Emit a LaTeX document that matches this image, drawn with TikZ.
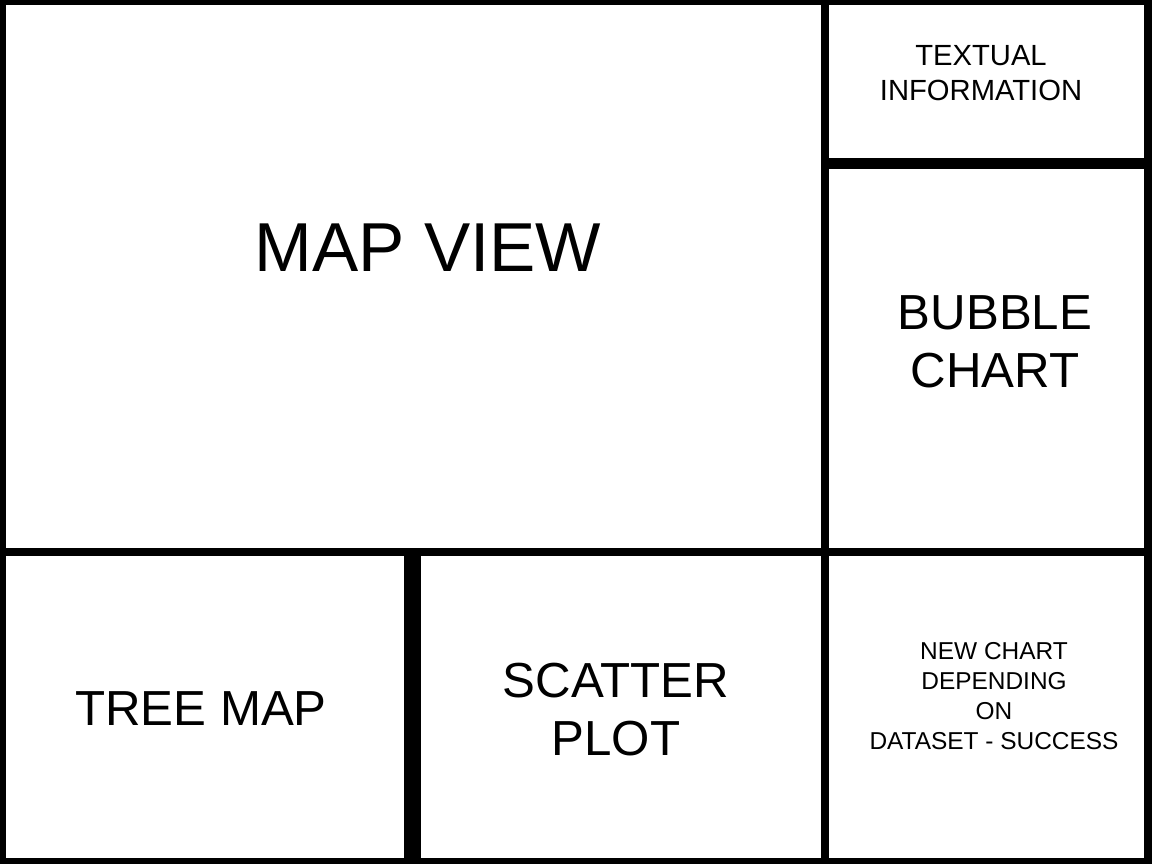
\documentclass[tikz,border=0pt]{standalone}
\usepackage{fontspec}
\setmainfont{Liberation Sans}
\usetikzlibrary{positioning}
\definecolor{Frame}{HTML}{000000}

\begin{document}
\begin{tikzpicture}[x=0.01cm,y=-0.01cm,
      panel/.style={fill=white},
      big/.style={font=\fontsize{19.7}{23}\selectfont},
      mid/.style={align=center,font=\fontsize{14}{16.5}\selectfont},
      small/.style={align=center,font=\fontsize{8.3}{10}\selectfont},
      tiny/.style={align=center,font=\fontsize{6.95}{8.5}\selectfont}]
    % Black sheet; the white panels leave the frame lines between them.
    \fill[Frame] (0,0) rectangle (1152,864);
    \useasboundingbox (0,0) rectangle (1152,864);
    \path[panel] (6,5) rectangle (821,548);
    \path[panel] (829,5) rectangle (1144,158);
    \path[panel] (829,169) rectangle (1144,548);
    \path[panel] (6,556) rectangle (404,858);
    \path[panel] (421,556) rectangle (821,858);
    \path[panel] (829,556) rectangle (1144,858);

    % Panel labels
    \node[big] (mapview) at (428,248) {MAP VIEW};
    \node[small] (textual) at (981,73) {TEXTUAL\\INFORMATION};
    \node[mid] (bubble) at (995,342) {BUBBLE\\CHART};
    \node[mid] (treemap) at (201,709) {TREE MAP};
    \node[mid] (scatter) at (616,710) {SCATTER\\PLOT};
    \node[tiny] (newchart) at (994,696)
      {NEW CHART\\DEPENDING\\ON\\DATASET - SUCCESS};
  \end{tikzpicture}
\end{document}
